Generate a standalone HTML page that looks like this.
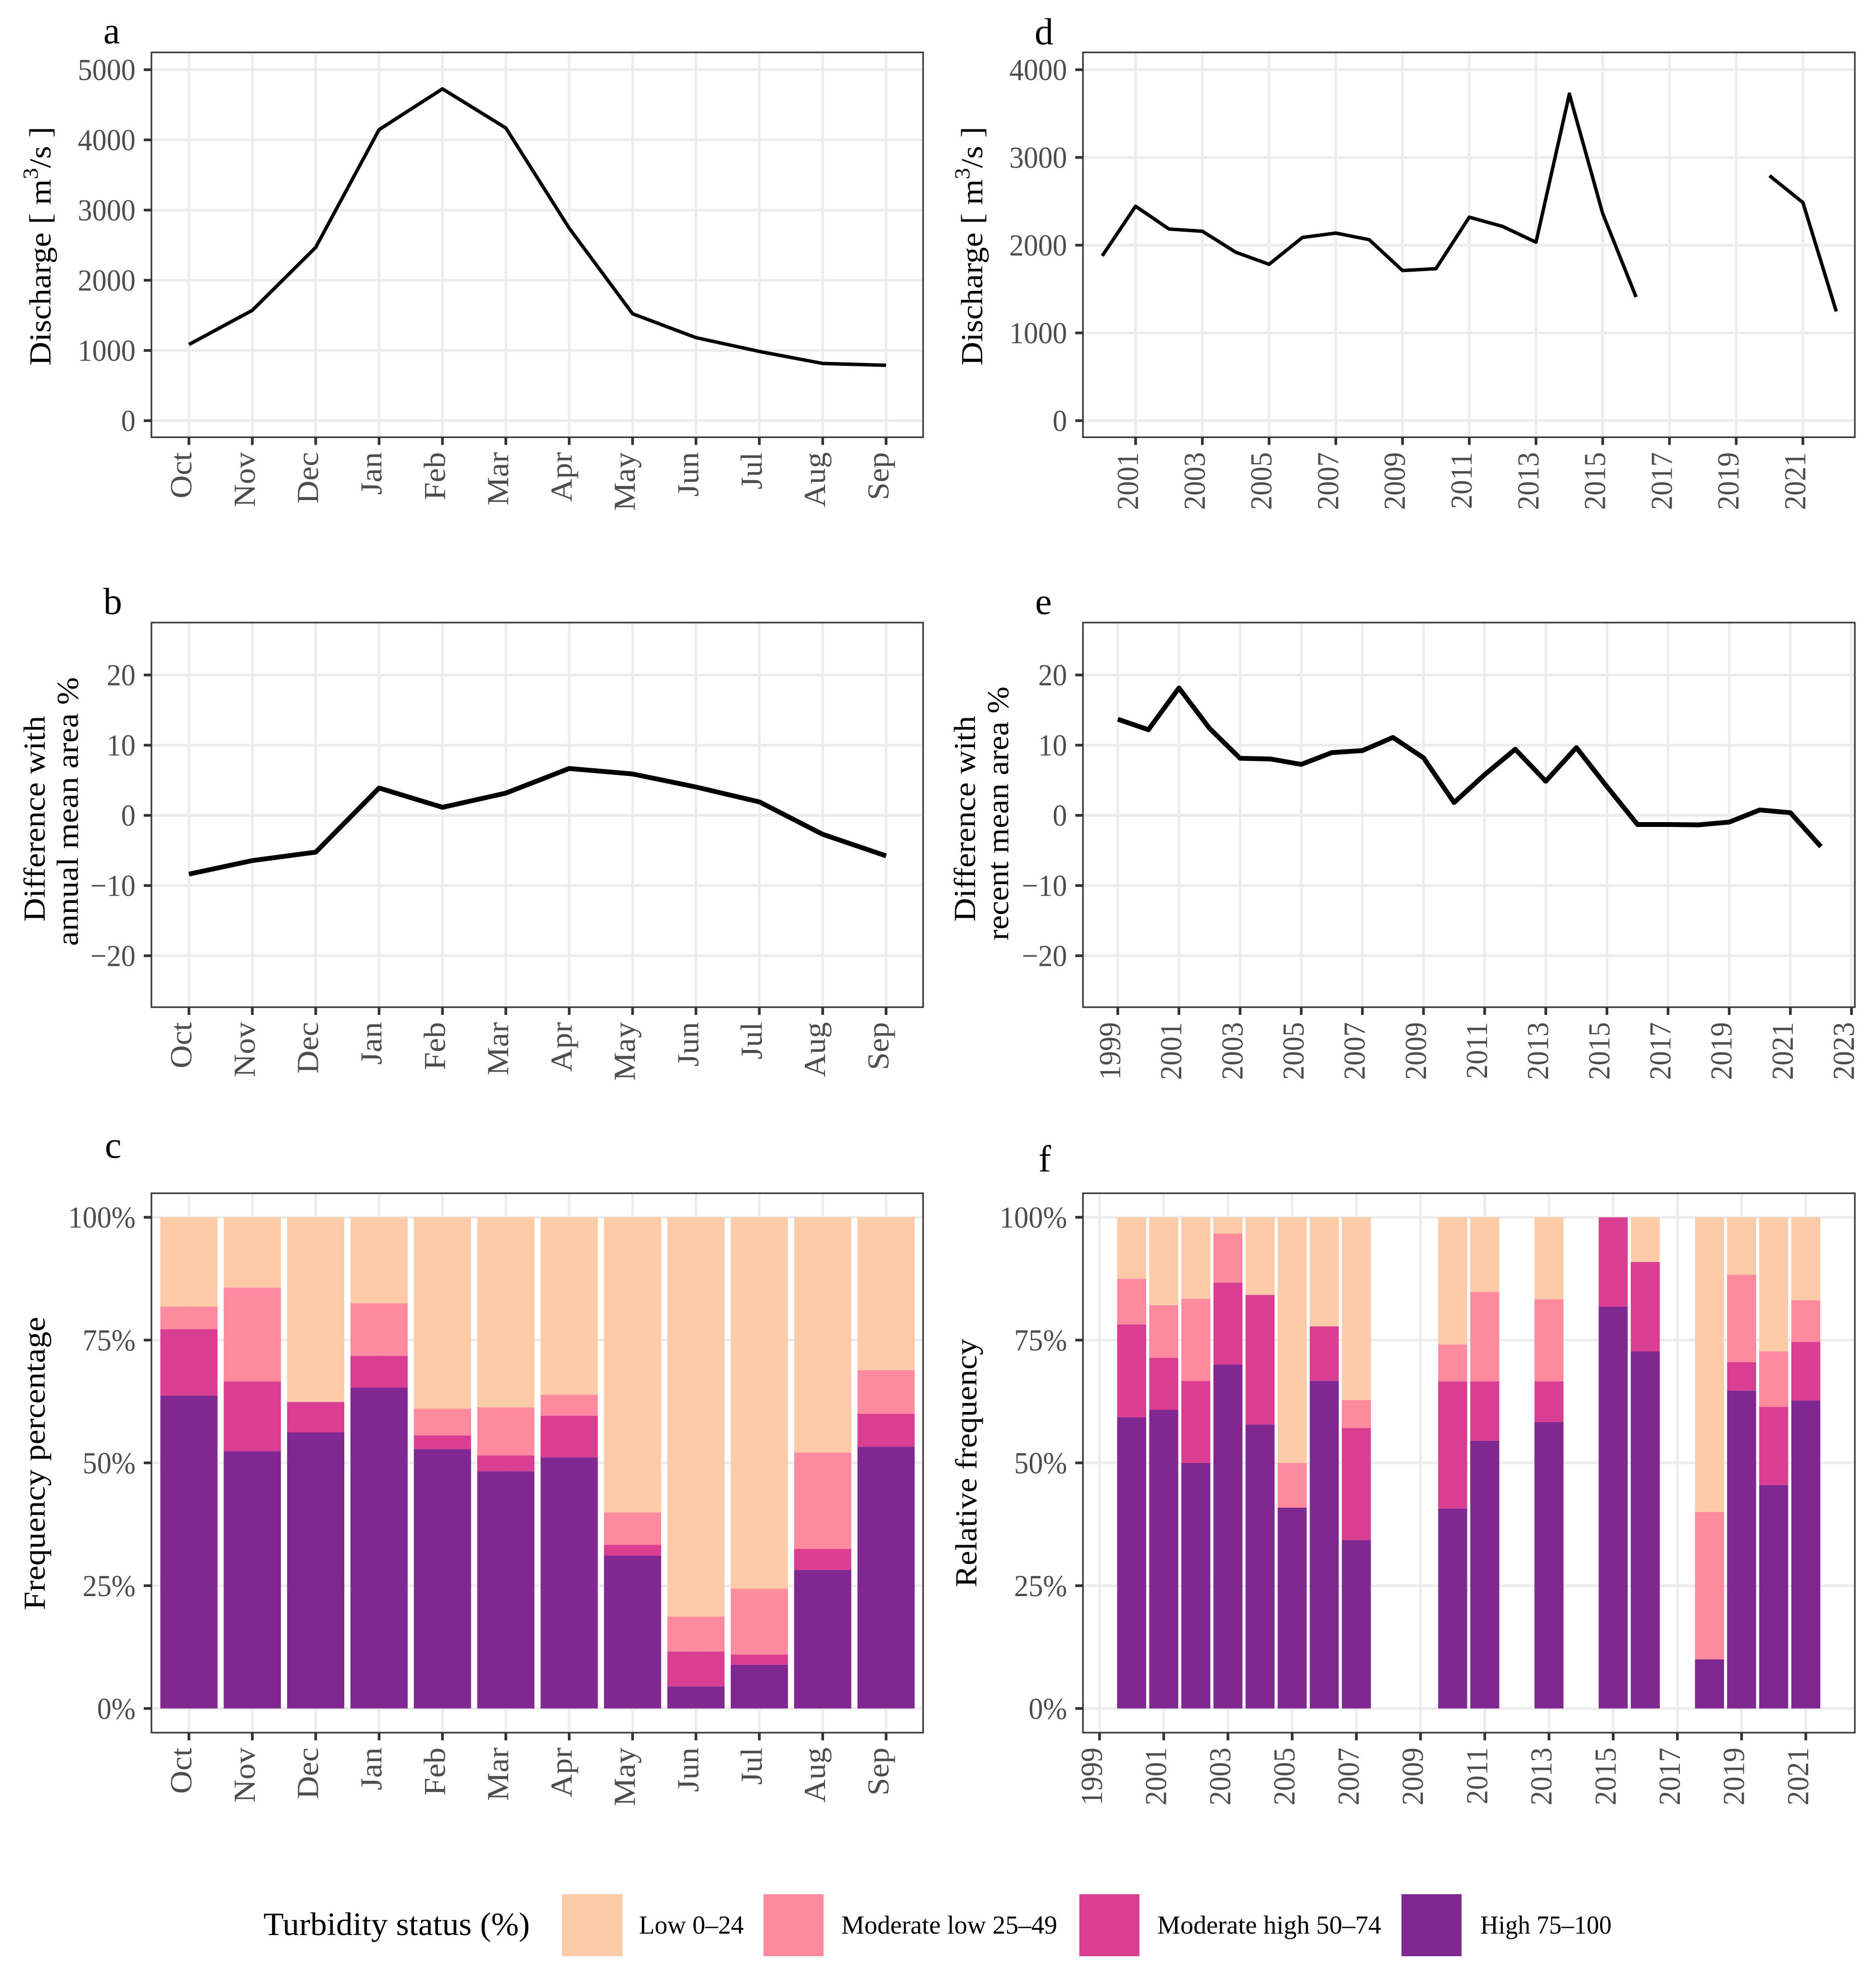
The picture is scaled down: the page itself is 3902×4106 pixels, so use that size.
<!DOCTYPE html>
<html lang="en">
<head>
<meta charset="utf-8">
<title>Discharge, area difference and turbidity status</title>
<style>
html,body{margin:0;padding:0;background:#fff}
svg{display:block}
text{font-family:"Liberation Serif",serif}
.panel-letter{font-size:78px;fill:#000}
.axis-title{font-size:64px;fill:#000}
.tick-label{font-size:64px;fill:#4d4d4d}
.legend-title{font-size:68px;fill:#000}
.legend-label{font-size:54px;fill:#000}
</style>
</head>
<body>
<svg id="figure" xmlns="http://www.w3.org/2000/svg" width="3902" height="4106" viewBox="0 0 3902 4106">
  <rect x="0" y="0" width="3902" height="4106" fill="#fff"/>
  <g id="panels"></g>

  <text class="panel-letter" x="215" y="90">a</text>
  <text class="panel-letter" x="215" y="1277">b</text>
  <text class="panel-letter" x="218" y="2408">c</text>
  <text class="panel-letter" x="2152" y="92">d</text>
  <text class="panel-letter" x="2153" y="1277">e</text>
  <text class="panel-letter" x="2160" y="2437">f</text>

  <text class="axis-title" transform="translate(105,512) rotate(-90)" text-anchor="middle" textLength="497" lengthAdjust="spacingAndGlyphs">Discharge [ m<tspan dy="-27" font-size="44">3</tspan><tspan dy="27">/s ]</tspan></text>
  <text class="axis-title" transform="translate(2043,512) rotate(-90)" text-anchor="middle" textLength="497" lengthAdjust="spacingAndGlyphs">Discharge [ m<tspan dy="-27" font-size="44">3</tspan><tspan dy="27">/s ]</tspan></text>
  <text class="axis-title" transform="translate(93,1703) rotate(-90)" text-anchor="middle" textLength="428" lengthAdjust="spacingAndGlyphs">Difference with</text>
  <text class="axis-title" transform="translate(162,1688) rotate(-90)" text-anchor="middle" textLength="559" lengthAdjust="spacingAndGlyphs">annual mean area %</text>
  <text class="axis-title" transform="translate(2028,1703) rotate(-90)" text-anchor="middle" textLength="428" lengthAdjust="spacingAndGlyphs">Difference with</text>
  <text class="axis-title" transform="translate(2097,1692) rotate(-90)" text-anchor="middle" textLength="528" lengthAdjust="spacingAndGlyphs">recent mean area %</text>
  <text class="axis-title" transform="translate(93,3044) rotate(-90)" text-anchor="middle" textLength="610" lengthAdjust="spacingAndGlyphs">Frequency percentage</text>
  <text class="axis-title" transform="translate(2031,3043) rotate(-90)" text-anchor="middle" textLength="517" lengthAdjust="spacingAndGlyphs">Relative frequency</text>

  <g>
    <text class="legend-title" x="548" y="4025" textLength="554" lengthAdjust="spacingAndGlyphs">Turbidity status (%)</text>
    <rect x="1169" y="3940" width="126" height="129" fill="#FECBA8"/>
    <text class="legend-label" x="1329" y="4022" textLength="218" lengthAdjust="spacingAndGlyphs">Low 0–24</text>
    <rect x="1588" y="3940" width="125" height="129" fill="#FE8A9F"/>
    <text class="legend-label" x="1750" y="4022" textLength="449" lengthAdjust="spacingAndGlyphs">Moderate low 25–49</text>
    <rect x="2245" y="3940" width="125" height="129" fill="#D93E92"/>
    <text class="legend-label" x="2407" y="4022" textLength="466" lengthAdjust="spacingAndGlyphs">Moderate high 50–74</text>
    <rect x="2915" y="3940" width="125" height="129" fill="#7F2891"/>
    <text class="legend-label" x="3079" y="4022" textLength="273" lengthAdjust="spacingAndGlyphs">High 75–100</text>
  </g>
</svg>
<script>
// ---- Data ----
const months = ['Oct','Nov','Dec','Jan','Feb','Mar','Apr','May','Jun','Jul','Aug','Sep'];
const dischargeMonthly = [1085,1572,2469,4146,4727,4170,2742,1523,1183,986,815,789];
const areaDiffMonthly = [-8.37,-6.44,-5.24,3.9,1.15,3.17,6.68,5.9,4.04,1.92,-2.7,-5.77];

const highMonthly = [63.7,52.4,56.2,65.3,52.8,48.3,51.1,31.1,4.5,8.9,28.2,53.3];
const modHighMonthly = [13.5,14.2,6.2,6.5,2.8,3.2,8.5,2.2,7.1,2.1,4.3,6.7];
const modLowMonthly = [4.6,19.1,0,10.7,5.4,9.8,4.3,6.6,7.1,13.4,19.6,8.9];
const lowMonthly = [18.2,14.3,37.6,17.5,39.0,38.7,36.1,60.1,81.3,75.6,47.9,31.1];

const dischargeYears = [2000,2001,2002,2003,2004,2005,2006,2007,2008,2009,2010,2011,2012,2013,2014,2015,2016,2017,2018,2019,2020,2021,2022];
const dischargeAnnual = [1878,2444,2184,2159,1920,1782,2088,2138,2063,1711,1732,2319,2214,2034,3723,2360,1409,null,null,null,2792,2486,1245];

const areaYears = [1999,2000,2001,2002,2003,2004,2005,2006,2007,2008,2009,2010,2011,2012,2013,2014,2015,2016,2017,2018,2019,2020,2021,2022];
const areaDiffAnnual = [13.7,12.2,18.15,12.4,8.13,8.03,7.26,8.94,9.23,11.1,8.2,1.83,5.8,9.42,4.86,9.66,4.1,-1.3,-1.3,-1.35,-0.96,0.77,0.38,-4.45];

const freqYears = [2000,2001,2002,2003,2004,2005,2006,2007,2010,2011,2013,2015,2016,2018,2019,2020,2021];
const highAnnual = [59.3,60.8,50,70,57.8,40.9,66.7,34.3,40.7,54.5,58.3,81.8,72.7,10,64.7,45.5,62.7];
const modHighAnnual = [18.9,10.6,16.7,16.7,26.4,0,11.1,22.8,25.9,12.1,8.3,18.2,18.2,0,5.8,15.9,11.9];
const modLowAnnual = [9.3,10.7,16.7,10,0,9.1,0,5.7,7.5,18.2,16.7,0,0,30,17.8,11.3,8.5];
const lowAnnual = [12.5,17.9,16.6,3.3,15.8,50,22.2,37.2,25.9,15.2,16.7,0,9.1,60,11.7,27.3,16.9];

const dischargeMonthlyTicks = [0,1000,2000,3000,4000,5000];
const dischargeAnnualTicks = [0,1000,2000,3000,4000];
const areaTicks = [-20,-10,0,10,20];
const percentTicks = [0,25,50,75,100];
const yearTicksD = [2001,2003,2005,2007,2009,2011,2013,2015,2017,2019,2021];
const yearTicksE = [1999,2001,2003,2005,2007,2009,2011,2013,2015,2017,2019,2021,2023];
const yearTicksF = [1999,2001,2003,2005,2007,2009,2011,2013,2015,2017,2019,2021];

// ---- Helpers ----
const NS = 'http://www.w3.org/2000/svg';
const root = document.getElementById('panels');

function make(tag, parent, name) {
  const el = document.createElementNS(NS, tag);
  
  
  parent.appendChild(el);
  return el;
}
function linear(v0, p0, v1, p1) {
  return function (v) { return p0 + (v - v0) / (v1 - v0) * (p1 - p0); };
}
function hLine(parent, name, x1, x2, y, color, width) {
  const l = make('line', parent, name);
  l.setAttribute('x1', x1); l.setAttribute('x2', x2);
  l.setAttribute('y1', y); l.setAttribute('y2', y);
  l.setAttribute('stroke', color); l.setAttribute('stroke-width', width);
}
function vLine(parent, name, x, y1, y2, color, width) {
  const l = make('line', parent, name);
  l.setAttribute('x1', x); l.setAttribute('x2', x);
  l.setAttribute('y1', y1); l.setAttribute('y2', y2);
  l.setAttribute('stroke', color); l.setAttribute('stroke-width', width);
}

// Draw the panel frame: grid first, marks via callback, then border, ticks and labels.
function drawPanel(key, box, xTicks, xLabels, xScale, yTicks, yLabels, yScale, xStretch, drawMarks) {
  const g = make('g', root, 'panel-' + key);
  const grid = make('g', g, 'gridlines-' + key);
  yTicks.forEach(function (t) {
    hLine(grid, 'h-gridline-' + key, box.left, box.right, yScale(t), '#ececec', 5.6);
  });
  xTicks.forEach(function (t) {
    vLine(grid, 'v-gridline-' + key, xScale(t), box.top, box.bottom, '#ececec', 5.2);
  });

  drawMarks(make('g', g, 'marks-' + key));

  const border = make('rect', g, 'panel-border-' + key);
  border.setAttribute('x', box.left);
  border.setAttribute('y', box.top);
  border.setAttribute('width', box.right - box.left);
  border.setAttribute('height', box.bottom - box.top);
  border.setAttribute('fill', 'none');
  border.setAttribute('stroke', '#333');
  border.setAttribute('stroke-width', 3.2);

  const yAxis = make('g', g, 'y-axis-' + key);
  yTicks.forEach(function (t, i) {
    const y = yScale(t);
    hLine(yAxis, 'y-tick-' + key, box.left - 16, box.left, y, '#333', 5.6);
    const label = make('text', yAxis, 'y-tick-label-' + key);
    label.setAttribute('class', 'tick-label');
    label.setAttribute('text-anchor', 'end');
    label.setAttribute('transform', 'translate(' + (box.left - 33) + ',' + (y + 21.6) + ') scale(0.94,1)');
    label.textContent = yLabels[i];
  });

  const xAxis = make('g', g, 'x-axis-' + key);
  xTicks.forEach(function (t, i) {
    const x = xScale(t);
    vLine(xAxis, 'x-tick-' + key, x, box.bottom, box.bottom + 16, '#333', 5.6);
    const label = make('text', xAxis, 'x-tick-label-' + key);
    label.setAttribute('class', 'tick-label');
    label.setAttribute('text-anchor', 'end');
    label.setAttribute('transform', 'translate(' + (x + 5) + ',' + (box.bottom + 31) + ') rotate(-90) scale(' + xStretch + ',1)');
    label.textContent = xLabels[i];
  });
}

function drawLine(parent, name, xs, values, xScale, yScale, width) {
  let segment = [];
  function flush() {
    if (segment.length) {
      const p = make('polyline', parent, name);
      p.setAttribute('points', segment.join(' '));
      p.setAttribute('fill', 'none');
      p.setAttribute('stroke', '#000');
      p.setAttribute('stroke-width', width);
      p.setAttribute('stroke-linejoin', 'round');
    }
    segment = [];
  }
  values.forEach(function (v, i) {
    if (v === null) { flush(); return; }
    segment.push(xScale(xs[i]) + ',' + yScale(v));
  });
  flush();
}

const stackColors = ['#7F2891', '#D93E92', '#FE8A9F', '#FECBA8'];
const stackNames = ['high', 'moderate-high', 'moderate-low', 'low'];

function drawStacks(parent, prefix, cats, series, xScale, yScale, barWidth) {
  cats.forEach(function (c, i) {
    let base = 0;
    series.forEach(function (s, k) {
      const v = s[i];
      if (v > 0) {
        const r = make('rect', parent, prefix + '-bar-' + stackNames[k]);
        r.setAttribute('x', xScale(c) - barWidth / 2);
        r.setAttribute('width', barWidth);
        r.setAttribute('y', yScale(base + v));
        r.setAttribute('height', yScale(base) - yScale(base + v));
        r.setAttribute('fill', stackColors[k]);
      }
      base += v;
    });
  });
}

const idx = months.map(function (m, i) { return i; });
const fmt = function (t) { return String(t).replace('-', '\u2212'); };
const pct = function (t) { return t + '%'; };
const monthX = linear(0, 393, 11, 1843);
const LEFT = { left: 315, right: 1920 };
const RIGHT = { left: 2252.5, right: 3858 };
const ROW1 = { top: 109, bottom: 909.5 };
const ROW2 = { top: 1295, bottom: 2095 };
const ROW3 = { top: 2482, bottom: 3604 };
function box(col, row) { return { left: col.left, right: col.right, top: row.top, bottom: row.bottom }; }

// Panel a
const yA = linear(0, 875, 5000, 145);
drawPanel('a', box(LEFT, ROW1), idx, months, monthX, dischargeMonthlyTicks, dischargeMonthlyTicks.map(fmt), yA, 1.04, function (m) {
  drawLine(m, 'discharge-monthly-line', idx, dischargeMonthly, monthX, yA, 7.2);
});

// Panel b
const yB = linear(-20, 1988, 20, 1404);
drawPanel('b', box(LEFT, ROW2), idx, months, monthX, areaTicks, areaTicks.map(fmt), yB, 1.04, function (m) {
  drawLine(m, 'area-difference-monthly-line', idx, areaDiffMonthly, monthX, yB, 10);
});

// Panel c
const yC = linear(0, 3553.7, 100, 2532);
drawPanel('c', box(LEFT, ROW3), idx, months, monthX, percentTicks, percentTicks.map(pct), yC, 1.04, function (m) {
  drawStacks(m, 'monthly', idx, [highMonthly, modHighMonthly, modLowMonthly, lowMonthly], monthX, yC, 119);
});

// Panel d
const xD = linear(2001, 2362, 2021, 3750);
const yD = linear(0, 875, 4000, 145);
drawPanel('d', box(RIGHT, ROW1), yearTicksD, yearTicksD, xD, dischargeAnnualTicks, dischargeAnnualTicks.map(fmt), yD, 0.94, function (m) {
  drawLine(m, 'discharge-annual-line', dischargeYears, dischargeAnnual, xD, yD, 7.2);
});

// Panel e
const xE = linear(1999, 2325, 2023, 3851);
drawPanel('e', box(RIGHT, ROW2), yearTicksE, yearTicksE, xE, areaTicks, areaTicks.map(fmt), yB, 0.94, function (m) {
  drawLine(m, 'area-difference-annual-line', areaYears, areaDiffAnnual, xE, yB, 10);
});

// Panel f
const xF = linear(1999, 2287, 2021, 3756);
drawPanel('f', box(RIGHT, ROW3), yearTicksF, yearTicksF, xF, percentTicks, percentTicks.map(pct), yC, 0.94, function (m) {
  drawStacks(m, 'annual', freqYears, [highAnnual, modHighAnnual, modLowAnnual, lowAnnual], xF, yC, 60.4);
});
</script>
</body>
</html>
